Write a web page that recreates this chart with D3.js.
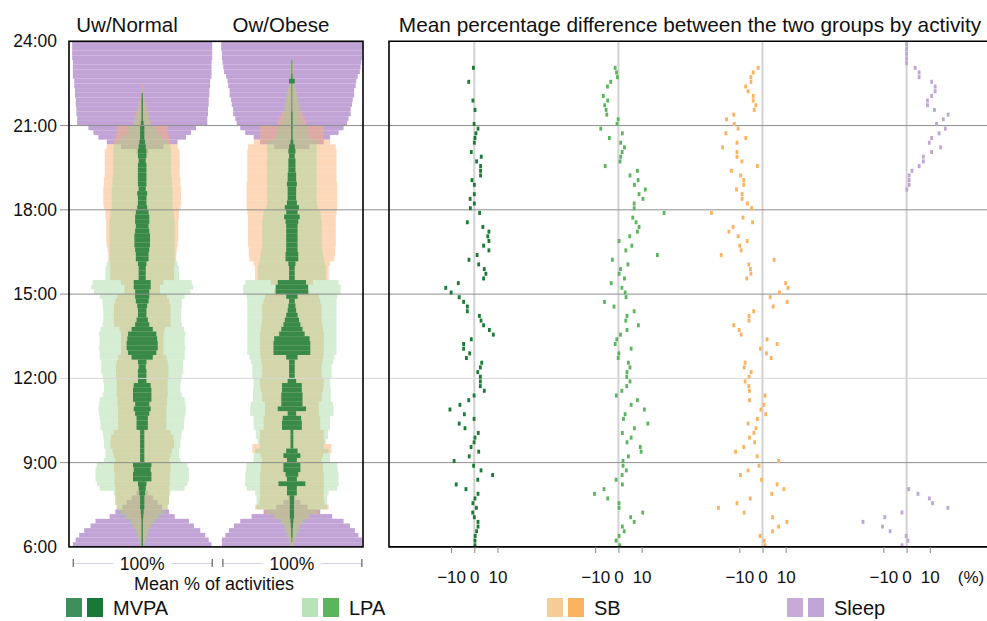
<!DOCTYPE html>
<html><head><meta charset="utf-8">
<script src="https://cdn.jsdelivr.net/npm/d3@7"></script>
<style>body{margin:0;background:#fff}svg{display:block;font-family:"Liberation Sans",Arial,sans-serif}</style>
</head><body><svg id="c" width="987" height="621"></svg>
<script>
// ---------- data ----------
const groups = ["Uw/Normal", "Ow/Obese"];
const activities = ["MVPA", "LPA", "SB", "Sleep"];
const hourTicks = [6, 9, 12, 15, 18, 21, 24];
const diffTicks = [-10, 0, 10];
// 10-minute bins from 6:00 (bin 0) to 23:50 (bin 107): mean % of time in each activity
const uwSleep = [98,94,89,82,73,66,46,38,28,22, 15,8,4,0,0,0,0,0,0,0, 0,0,0,0,0,0,0,0,0,0, 0,0,0,0,0,0,0,0,0,0, 0,0,0,0,0,0,0,0,0,0, 0,0,0,0,0,0,0,0,0,0, 0,0,0,0,0,0,0,0,0,0, 0,0,0,0,0,0,0,0,0,0, 0,0,0,0,8,30,50,62,69,76, 92,92,93,93,94,94,95,95,96,96, 98,98,98,98,99,99,99,99];
const uwSB = [2,4,6,8,12,15,22,28,36,38, 38,38,38,39,39,39,40,40,38,40, 42,45,45,44,40,34,34,34,34,34, 35,35,36,36,36,36,37,37,37,36, 34,30,30,30,30,30,32,40,40,40, 40,40,38,35,25,25,30,45,45,45, 46,48,48,49,50,51,51,51,51,51, 52,52,54,55,55,55,55,54,54,53, 53,53,53,53,53,50,40,38,36,36, 12,10,9,7,5,3,2,1,1,0, 0,0,0,0,0,0,0,0];
const uwLPA = [4,6,8,10,14,18,26,32,36,38, 38,40,60,64,66,66,66,64,54,52, 52,54,54,55,56,59,59,60,61,62, 61,60,56,54,54,55,56,58,58,58, 60,60,61,60,60,61,59,56,55,55, 55,56,56,60,68,72,70,52,52,52, 50,46,46,46,46,46,46,46,46,46, 45,45,43,43,43,43,43,42,42,41, 41,41,41,41,41,40,36,28,22,20, 12,10,8,6,5,3,2,1,0,0, 0,0,0,0,0,0,0,0];
const uwMVPA = [1,1,1,1,1,1,1.5,2,3,3, 3,4,5,6,13,13,12,13,3,3, 3,3,3,3,3,8,8,8,10,12, 10,13,13,13,12,6,6,6,5,6, 15,20,22,22,21,20,15,10,8,6, 6,7,9,10,10,12,12,5,5,5, 6,9,9,10,11,11,11,10,9,10, 10,9,7,6,6,7,5,6,6,6, 6,6,5,6,6,5,4,3,3,3, 2,1,1,1,1,1,0.8,0,0,0, 0,0,0,0,0,0,0,0];
const owSleep = [99,99,94,89,82,73,57,40,22,12, 5,0,0,0,0,0,0,0,0,0, 0,0,0,0,0,0,0,0,0,0, 0,0,0,0,0,0,0,0,0,0, 0,0,0,0,0,0,0,0,0,0, 0,0,0,0,0,0,0,0,0,0, 0,0,0,0,0,0,0,0,0,0, 0,0,0,0,0,0,0,0,0,0, 0,0,0,0,0,25,45,54,66,73, 78,80,83,83,85,86,88,88,90,91, 93,96,97,98,99,99,100,100];
const owSB = [2,4,6,8,10,15,25,38,52,46, 45,45,45,45,45,45,44,44,42,44, 56,56,46,45,45,40,40,40,38,38, 38,42,42,44,45,45,42,42,42,43, 44,45,45,45,45,45,44,43,42,42, 42,42,40,38,25,22,30,52,52,52, 54,60,61,61,62,62,62,62,62,62, 62,63,64,64,64,64,64,64,63,63, 63,63,63,63,63,62,54,45,45,45, 20,18,15,10,9,8,7,6,4,3, 2,2,2,1,0,0,0,0];
const owLPA = [3,5,8,10,12,18,25,35,50,50, 50,52,64,66,66,66,65,64,54,54, 52,45,48,51,51,54,54,54,59,59, 58,55,55,55,54,54,56,56,56,58, 60,63,63,63,63,63,63,63,63,63, 63,63,63,64,69,69,66,48,48,48, 47,45,44,43,42,42,42,42,42,42, 41,40,36,35,35,35,35,35,35,35, 35,35,35,35,35,35,35,24,21,21, 14,12,12,12,10,9,8,6,5,4, 3,3,3,2,0,0,0,0];
const owMVPA = [0,0.5,1,1,1.5,2,3,3,3,3, 3,7,7,19,7,9,12,12,7,12, 8,2,2,2,2,14,14,13,6,20, 15,15,15,14,14,6,4,4,4,4, 8,26,26,26,25,18,15,12,10,8, 6,5,4,8,23,23,20,4,4,4, 5,9,9,8,8,8,8,8,8,9, 11,8,10,7,6,6,6,7,6,6, 5,5,5,4,5,4,2,1,1,1, 1,1,1,0.5,0.5,0.5,0.5,0.5,0.5,4, 1,0.5,0.5,0.5,0,0,0,0];
// mean percentage difference between groups, per bin (null = not shown)
const mvpaDiff = [0.3,0.3,0.4,1,1.6,1.6,0,-0.7,0.9,-0.6, 0.3,1.6,-3.6,-7.8,1.5,7.9,2.9,-0.3,-8.7,-2.2, 1.9,-1.4,-0.1,0.3,1.7,-4,-6.5,-0.1,-4.3,-10.5, -6.2,-2.4,-0.1,4.3,2.6,2.6,2.6,1.5,2.6,3.2, -3.4,-2,-4.6,-4.6,-1.3,8.2,6.5,4,2.9,2.2, -3,-3,-4.6,-6.5,-10,-12.3,-6.9,4,5,4.3, 1.9,-2.3,1.2,6.3,4,6.3,5.8,6.3,3.7,-3, null,2.3,-1.7,0,-1.8,0,null,0,-1,2.7, 2.7,2.7,1,3,-1.3,null,0,0.3,0.7,1.6, -0.1,null,null,0.3,null,-0.6,null,null,null,-2.4, null,null,-0.4,null,null,null,null,null];
const lpaDiff = [0.6,-1,0.3,2.5,1.7,6.8,5.3,10.5,0.3,0.3, -4.6,-10.3,-6.2,1.7,-1,1.6,3.4,2,2,4.3, 9.8,9.4,3.7,5.5,1.7,6.9,12.7,2.2,2.9,11.2, 5.5,8.2,-0.9,1.5,3.6,5,3.6,3.7,5,4.3, -0.1,0.2,5.5,-1.4,-0.7,0.9,3.7,8.6,3.2,3.7, 6.8,-1.9,-6,3.3,2.9,1.5,-3.1,2.6,0.3,0.9, 4.1,-2.6,16.8,3.2,5.8,0.3,4.9,8.2,8.9,7.6, 6.2,19.7,6.8,6.8,10.6,8.9,11.6,6.9,8.5,5, 8.2,-5.7,0.7,1,1.6,2.6,1,-3.9,1.7,-7.6, -0.6,-0.1,-5,-5.3,-5.9,-4.6,-6.5,null,-4.7,-3.3, -0.4,-0.8,-1.4,null,null,null,null,null];
const sbDiff = [1.1,0.7,-1,4.3,7,10.5,4.4,-7.9,-19,-11, -5.3,4,9.2,6.3,-0.4,-9.5,-6.2,-1.5,7,-2.3, -11.6,-8.1,-3.4,-5.6,-3.7,-2.8,-6.2,-2.2,1.4,-0.7, 0.6,-5.6,1.1,-5.6,-5.9,-7.5,-5.8,-4.9,-7.9,-7.5, 3.7,1.7,-0.9,6.3,2,-9.2,-10.1,-12.4,-5.8,-5.8, -3.8,4.6,10.6,3.3,7.3,11,10,-6.8,-5,-5.2, -5.9,5,-17.8,-9.2,-9.8,-6.6,-10.5,-14.5,-12.7,-4.3, -8.4,-22,-4.7,-6.5,-8.8,-8.8,-11.2,-8.1,-8.1,-9.4, -13.4,-2.2,-8.9,-11,-11,-17.2,-11,-7.2,-15.8,-10.5, -12.2,-15.5,-12.4,-3.6,-2.9,-4,-4,-6.2,-7.3,-5, -5,-4,-1.9,null,null,null,null,null];
const sleepDiff = [-2,0.6,-0.2,-7.1,-10.4,-18.8,-9.4,-2,17.8,11.2, 9.8,4.9,0.9,null,null,null,null,null,null,null, null,null,null,null,null,null,null,null,null,null, null,null,null,null,null,null,null,null,null,null, null,null,null,null,null,null,null,null,null,null, null,null,null,null,null,null,null,null,null,null, null,null,null,null,null,null,null,null,null,null, null,null,null,null,null,null,0.1,1.1,1.1,1.1, 2.3,5.4,7.2,7.2,10.8,14.7,9.8,10.8,14,16.7, 12.9,15.8,17.9,12,9,9,10.8,12.3,12.3,10.8, 5.4,5.4,3.7,0,0,0,0,0];

// ---------- setup ----------
const svg = d3.select("#c");
const font = '"Liberation Sans", Arial, sans-serif';
const y = d3.scaleLinear().domain([6, 24]).range([546.9, 41.3]);
const binStart = k => 6 + k / 6;
const binH = y(6) - y(6 + 1 / 6);

const leftData = {
  "Uw/Normal": {Sleep: uwSleep, SB: uwSB, LPA: uwLPA, MVPA: uwMVPA},
  "Ow/Obese": {Sleep: owSleep, SB: owSB, LPA: owLPA, MVPA: owMVPA}
};
const diffData = {MVPA: mvpaDiff, LPA: lpaDiff, SB: sbDiff, Sleep: sleepDiff};

const colCenter = d3.scalePoint().domain(groups).range([142.2, 291.9]);
const wScale = d3.scaleLinear().domain([0, 100]).range([0, 141.5]);
const barStyle = {
  Sleep: {fill: "rgb(193,163,214)", op: 1},
  SB: {fill: "rgb(250,178,115)", op: 0.5},
  LPA: {fill: "rgb(152,213,150)", op: 0.42},
  MVPA: {fill: "rgb(40,130,62)", op: 0.9}
};
const dotColor = {MVPA: "#1b7a36", LPA: "#5bb55d", SB: "#fbb35f", Sleep: "#c3a4d6"};
const legendColors = {
  MVPA: ["#3f8f5b", "#17783a"],
  LPA: ["#b8e2b8", "#5bb55d"],
  SB: ["#f6cb94", "#fbb35f"],
  Sleep: ["#c7aad6", "#c3a4d6"]
};

// ---------- left panel bars ----------
const leftG = svg.append("g");
["Sleep", "SB", "LPA", "MVPA"].forEach(act => {
  groups.forEach(g => {
    const vals = leftData[g][act];
    leftG.append("g").selectAll("rect")
      .data(vals.map((v, k) => ({v, k})).filter(d => d.v > 0))
      .join("rect")
      .attr("x", d => colCenter(g) - wScale(d.v) / 2)
      .attr("y", d => y(binStart(d.k + 1)))
      .attr("width", d => wScale(d.v))
      .attr("height", binH)
      .attr("fill", barStyle[act].fill)
      .attr("fill-opacity", barStyle[act].op);
  });
});

// ---------- right panel ----------
const bandX = d3.scalePoint().domain(activities).range([474.3, 906.6]);
const diffScale = act => d3.scaleLinear().domain([-10, 10]).range([bandX(act) - 23.2, bandX(act) + 23.2]);

svg.append("defs").append("clipPath").attr("id", "rclip")
  .append("rect").attr("x", 389).attr("y", 41.3).attr("width", 600).attr("height", 546.9 - 41.3);

// zero lines
svg.append("g").selectAll("line").data(activities).join("line")
  .attr("x1", d => bandX(d)).attr("x2", d => bandX(d))
  .attr("y1", 41.3).attr("y2", 546.9)
  .attr("stroke", "#d2d2d2").attr("stroke-width", 2);

// gridlines
svg.append("g").selectAll("line").data(hourTicks.filter(h => h > 6 && h < 24)).join("line")
  .attr("x1", 60).attr("x2", 987)
  .attr("y1", d => y(d)).attr("y2", d => y(d))
  .attr("stroke", d => d === 12 ? "#d6d6d6" : "#8e8e8e").attr("stroke-width", 1);

// dots
const dotG = svg.append("g").attr("clip-path", "url(#rclip)");
activities.forEach(act => {
  const sx = diffScale(act);
  dotG.append("g").selectAll("rect")
    .data(diffData[act].map((v, k) => ({v, k})).filter(d => d.v !== null))
    .join("rect")
    .attr("x", d => sx(d.v) - 1.4)
    .attr("y", d => y(binStart(d.k)) - 3.6)
    .attr("width", 2.8).attr("height", 4)
    .attr("fill", dotColor[act]);
});

// panel frames
svg.append("rect").attr("x", 69).attr("y", 41.3).attr("width", 294).attr("height", 546.9 - 41.3)
  .attr("fill", "none").attr("stroke", "#000").attr("stroke-width", 1.6);
svg.append("path").attr("d", "M990,41.3H389V546.9H990")
  .attr("fill", "none").attr("stroke", "#000").attr("stroke-width", 1.6);

// right x axes
activities.forEach(act => {
  const ax = svg.append("g").attr("transform", "translate(0,547)")
    .call(d3.axisBottom(diffScale(act)).tickValues(diffTicks).tickSize(6).tickPadding(18).tickFormat(d3.format("d")));
  ax.select(".domain").remove();
  ax.selectAll("line").attr("stroke", "#888");
  ax.selectAll("text").attr("font-size", 17).attr("font-family", font).attr("fill", "#111");
});
svg.append("text").attr("x", 971).attr("y", 583).attr("text-anchor", "middle")
  .attr("font-size", 17).attr("font-family", font).attr("fill", "#111").text("(%)");

// left y axis labels
const yAx = svg.append("g").attr("transform", "translate(69,0)")
  .call(d3.axisLeft(y).tickValues(hourTicks).tickSize(0).tickPadding(12).tickFormat(d => d + ":00"));
yAx.select(".domain").remove();
yAx.selectAll("text").attr("font-size", 17.5).attr("font-family", font).attr("fill", "#111");

// left bottom axes ("100%")
groups.forEach(g => {
  const c = colCenter(g);
  const sc = d3.scaleLinear().domain([0, 100]).range([c - 69.5, c + 69.5]);
  const ax = svg.append("g").attr("transform", "translate(0,563)")
    .call(d3.axisBottom(sc).tickValues([0, 100]).tickSizeOuter(0).tickSizeInner(8).tickFormat(""));
  ax.select(".domain").attr("stroke", "#d8d2e6");
  ax.selectAll(".tick line").attr("y1", -4).attr("y2", 4).attr("stroke", "#444");
  svg.append("rect").attr("x", c - 29).attr("y", 554).attr("width", 58).attr("height", 18).attr("fill", "#fff");
  svg.append("text").attr("x", c).attr("y", 570).attr("text-anchor", "middle")
    .attr("font-size", 17.5).attr("font-family", font).attr("fill", "#111").text("100%");
});
svg.append("text").attr("x", 214).attr("y", 590).attr("text-anchor", "middle")
  .attr("font-size", 18).attr("font-family", font).attr("fill", "#111").text("Mean % of activities");

// titles
svg.append("text").attr("x", 127).attr("y", 32).attr("text-anchor", "middle")
  .attr("font-size", 20.5).attr("font-family", font).attr("fill", "#111").text(groups[0]);
svg.append("text").attr("x", 281).attr("y", 32).attr("text-anchor", "middle")
  .attr("font-size", 20.5).attr("font-family", font).attr("fill", "#111").text(groups[1]);
svg.append("text").attr("x", 690).attr("y", 32).attr("text-anchor", "middle")
  .attr("font-size", 20.8).attr("font-family", font).attr("fill", "#111")
  .text("Mean percentage difference between the two groups by activity");

// legend
const legX = d3.scaleOrdinal().domain(activities).range([66, 302, 547, 787]);
const leg = svg.append("g").selectAll("g").data(activities).join("g")
  .attr("transform", d => `translate(${legX(d)},598)`);
leg.append("rect").attr("x", 0).attr("width", 16).attr("height", 19).attr("fill", d => legendColors[d][0]);
leg.append("rect").attr("x", 21).attr("width", 16).attr("height", 19).attr("fill", d => legendColors[d][1]);
leg.append("text").attr("x", 47).attr("y", 17).attr("font-size", 20).attr("font-family", font)
  .attr("fill", "#111").text(d => d);
</script></body></html>
